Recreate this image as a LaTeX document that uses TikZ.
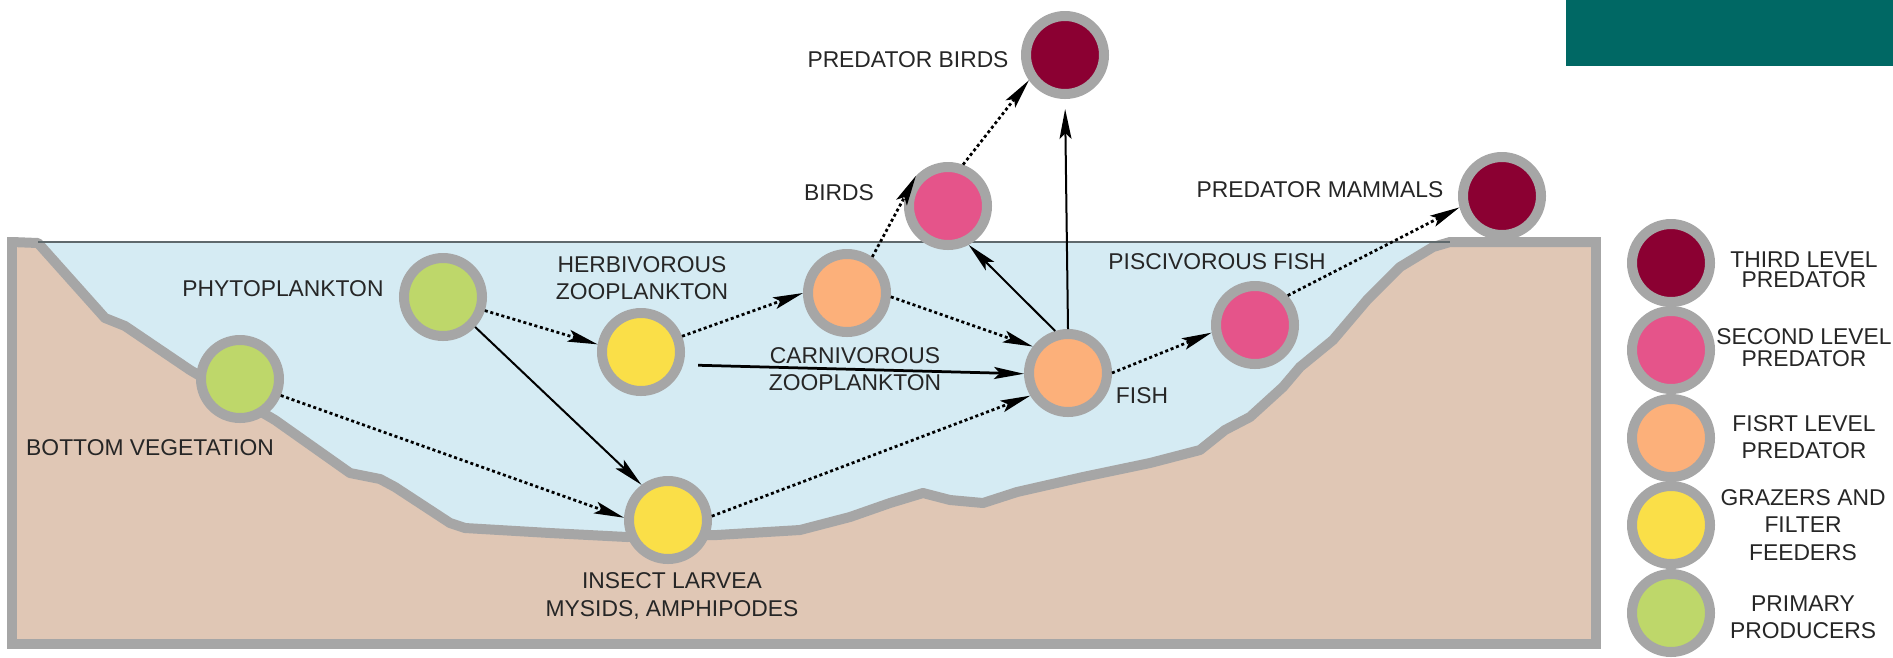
\documentclass[tikz,border=0pt]{standalone}
\usepackage{fontspec}
\setmainfont{Liberation Sans}
\usetikzlibrary{arrows.meta}

\definecolor{landtan}{RGB}{224,199,181}
\definecolor{waterblue}{RGB}{213,235,243}
\definecolor{framegray}{RGB}{166,166,166}
\definecolor{surfgray}{RGB}{95,105,108}
\definecolor{headteal}{RGB}{0,104,100}
\definecolor{thirdred}{RGB}{139,0,50}
\definecolor{secondpink}{RGB}{229,84,138}
\definecolor{firstorange}{RGB}{252,176,122}
\definecolor{grazeryellow}{RGB}{250,223,72}
\definecolor{primarygreen}{RGB}{190,215,106}

\begin{document}
\begin{tikzpicture}[x=0.2mm,y=-0.2mm,
    organism/.style={circle,draw=framegray,line width=2mm,minimum size=15.6mm,inner sep=0pt},
    lbl/.style={font=\fontsize{13}{15.5}\selectfont,text=black!85,align=center,inner sep=0pt},
    feed/.style={-{Stealth[length=6mm,width=2.4mm,inset=1.2mm]},line width=0.55mm,dash pattern=on 0.6mm off 0.55mm},
    eat/.style={-{Stealth[length=6mm,width=2.4mm,inset=1.2mm]},line width=0.4mm}]
    \useasboundingbox (0,0) rectangle (1893,657);

    % banner
    \fill[headteal] (1566,0) rectangle (1893,66);

    % lake cross section
    \fill[landtan] (12,242) rectangle (1596,644);
    \fill[waterblue] (38,243) -- (105,318) -- (125,326) -- (190,370) -- (275,420)
        -- (350,473) -- (380,479) -- (395,487) -- (450,523) -- (465,528)
        -- (550,533) -- (627,537) -- (717,535) -- (750,533) -- (800,530)
        -- (850,517) -- (890,503) -- (923,493) -- (950,500) -- (983,503)
        -- (1017,492) -- (1083,477) -- (1150,463) -- (1200,450) -- (1225,430)
        -- (1250,417) -- (1283,387) -- (1300,367) -- (1333,340) -- (1367,300)
        -- (1400,267) -- (1433,247) -- (1450,242) -- cycle;
    \draw[framegray,line width=2mm,line join=round] (12,242) -- (38,243)
        -- (105,318) -- (125,326) -- (190,370) -- (275,420)
        -- (350,473) -- (380,479) -- (395,487) -- (450,523) -- (465,528)
        -- (550,533) -- (627,537) -- (717,535) -- (750,533) -- (800,530)
        -- (850,517) -- (890,503) -- (923,493) -- (950,500) -- (983,503)
        -- (1017,492) -- (1083,477) -- (1150,463) -- (1200,450) -- (1225,430)
        -- (1250,417) -- (1283,387) -- (1300,367) -- (1333,340) -- (1367,300)
        -- (1400,267) -- (1433,247) -- (1450,242) -- (1596,242);
    \draw[framegray,line width=2mm] (12,237) -- (12,644) -- (1596,644) -- (1596,237);
    \draw[surfgray,line width=0.4mm] (38,242) -- (1450,242);

    % food web
    \node[organism,fill=thirdred] (predbirds) at (1065,55) {};
    \node[organism,fill=secondpink] (birds) at (948,206) {};
    \node[organism,fill=thirdred] (predmammals) at (1502,196) {};
    \node[organism,fill=primarygreen] (phyto) at (443,297) {};
    \node[organism,fill=grazeryellow] (herb) at (641,352) {};
    \node[organism,fill=firstorange] (carniv) at (847,293) {};
    \node[organism,fill=firstorange] (fish) at (1068,373) {};
    \node[organism,fill=secondpink] (pisc) at (1255,325) {};
    \node[organism,fill=primarygreen] (bveg) at (240,379) {};
    \node[organism,fill=grazeryellow] (insect) at (668,520) {};

    \node[lbl] (predbirds-lbl) at (908,60) {PREDATOR BIRDS};
    \node[lbl] (birds-lbl) at (839,193) {BIRDS};
    \node[lbl] (predmammals-lbl) at (1320,190) {PREDATOR MAMMALS};
    \node[lbl] (pisc-lbl) at (1217,262) {PISCIVOROUS FISH};
    \node[lbl] (herb-lbl) at (642,278) {HERBIVOROUS\\ZOOPLANKTON};
    \node[lbl] (phyto-lbl) at (283,289) {PHYTOPLANKTON};
    \node[lbl] (carniv-lbl) at (855,369) {CARNIVOROUS\\ZOOPLANKTON};
    \node[lbl] (fish-lbl) at (1142,396) {FISH};
    \node[lbl] (bveg-lbl) at (150,448) {BOTTOM VEGETATION};
    \node[lbl] (insect-lbl) at (672,596) {INSECT LARVEA\\MYSIDS, AMPHIPODES};

    \draw[feed] (phyto.-18) -- (herb.170);
    \draw[eat] (phyto.-43) -- (insect.127);
    \draw[feed] (bveg.-22) -- (insect.177);
    \draw[feed] (herb.21) -- (carniv.180);
    \draw[eat,line width=0.55mm,shorten <=3mm] (herb.-17) -- (fish.181);
    \draw[feed] (carniv.-5) -- (fish.143);
    \draw[feed] (carniv.55) -- (birds.137);
    \draw[feed] (insect.5) -- (fish.211);
    \draw[eat] (fish.107) -- (birds.-62);
    \draw[eat,shorten >=2mm] (fish.north) -- (predbirds.south);
    \draw[feed] (birds.70) -- (predbirds.215);
    \draw[feed] (fish.east) -- (pisc.190);
    \draw[feed] (pisc.42) -- (predmammals.195);

    % legend
    \node[organism,fill=thirdred] (key3) at (1671,263) {};
    \node[organism,fill=secondpink] (key2) at (1671,350) {};
    \node[organism,fill=firstorange] (key1) at (1671,438) {};
    \node[organism,fill=grazeryellow] (keyg) at (1671,525) {};
    \node[organism,fill=primarygreen] (keyp) at (1671,613) {};
    \node[lbl] (key3-lbl) at (1804,270) {THIRD LEVEL\\[-4pt]PREDATOR};
    \node[lbl] (key2-lbl) at (1804,348) {SECOND LEVEL\\[-3pt]PREDATOR};
    \node[lbl] (key1-lbl) at (1804,437) {FISRT LEVEL\\PREDATOR};
    \node[lbl] (keyg-lbl) at (1803,525) {GRAZERS AND\\FILTER\\FEEDERS};
    \node[lbl] (keyp-lbl) at (1803,617) {PRIMARY\\PRODUCERS};
\end{tikzpicture}
\end{document}
